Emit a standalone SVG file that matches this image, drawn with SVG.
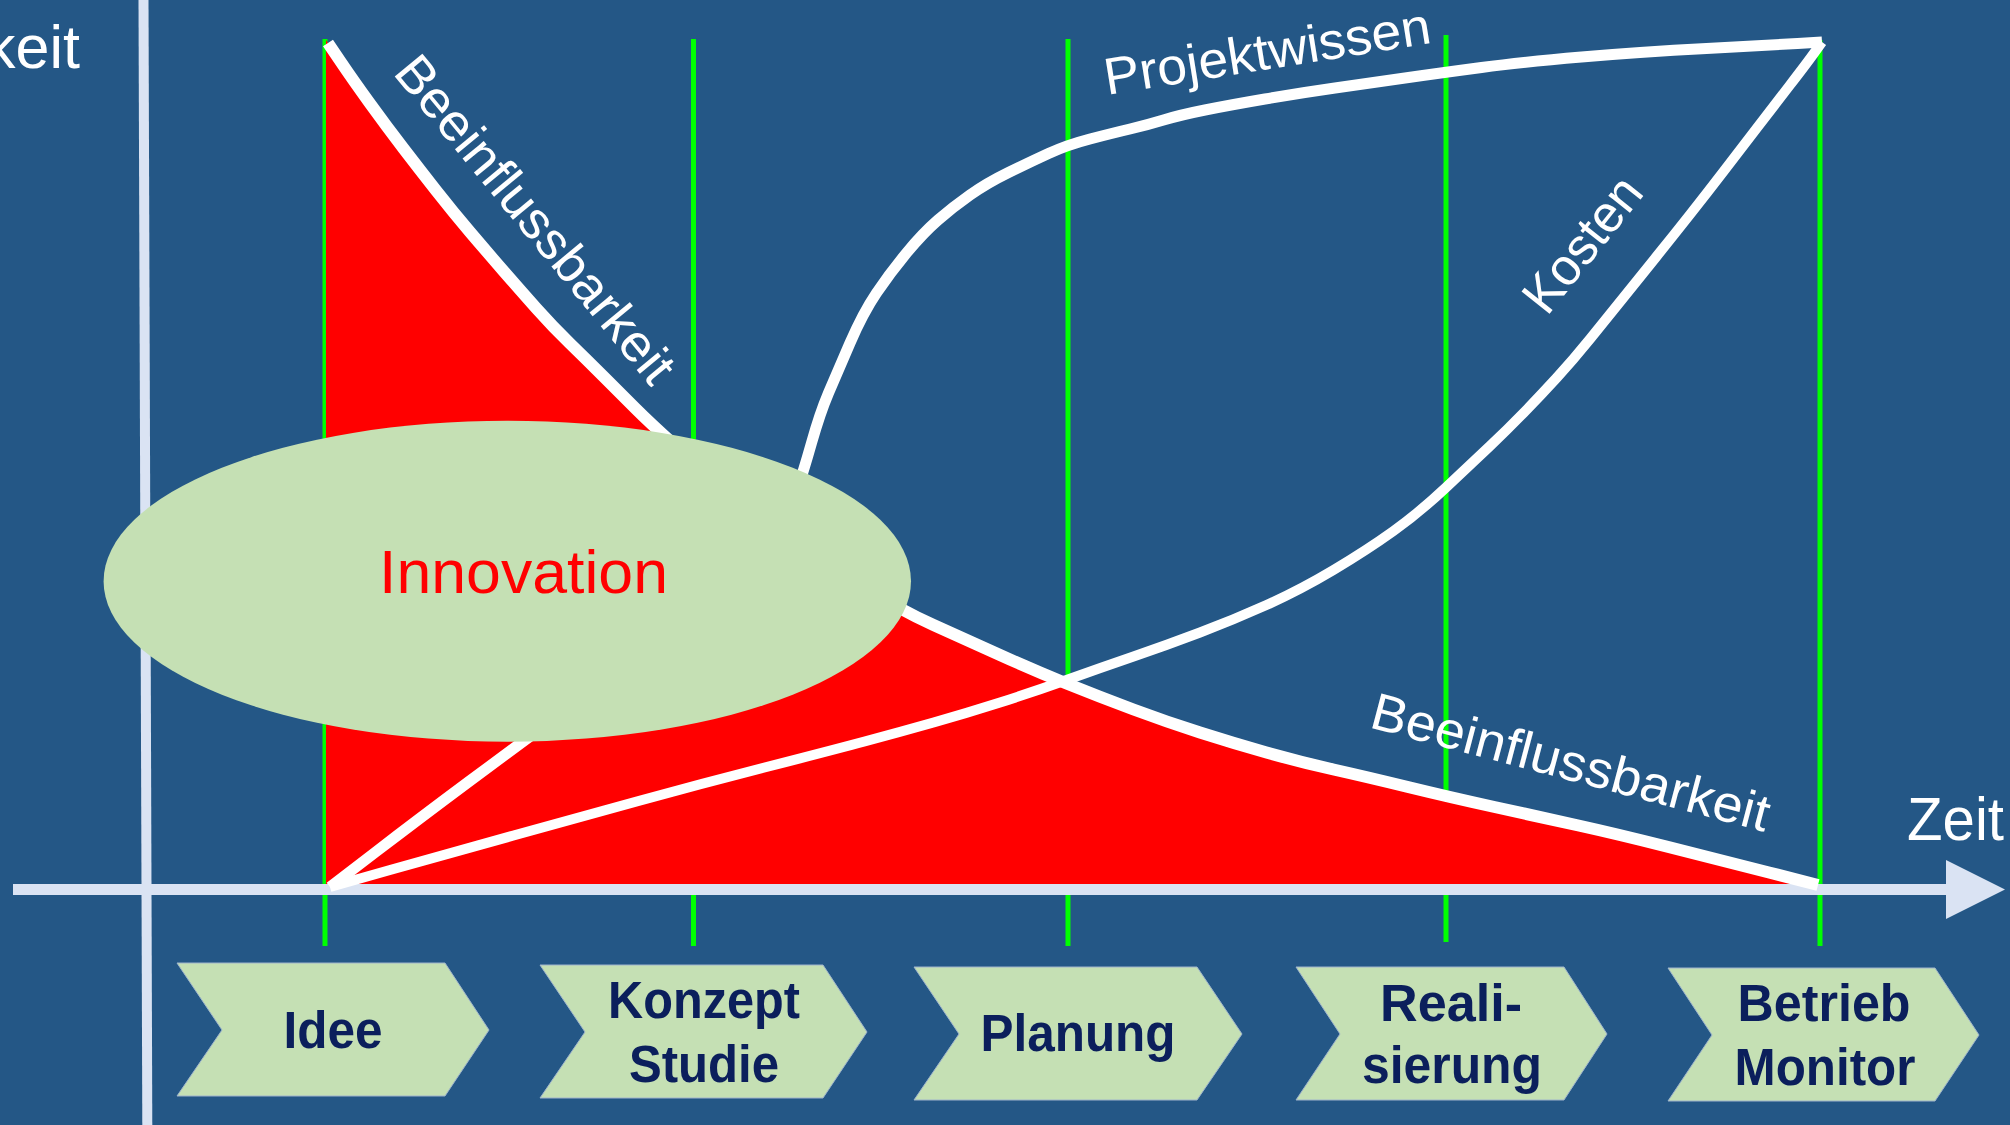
<svg xmlns="http://www.w3.org/2000/svg" width="2010" height="1125" viewBox="0 0 2010 1125">
<style>
.lbl{font-family:"Liberation Sans",Arial,sans-serif;fill:#ffffff;font-size:52px}
.big{font-family:"Liberation Sans",Arial,sans-serif;fill:#ffffff;font-size:61px}
.step{fill:#C5E0B4;stroke:#9FB4CC;stroke-width:1}
.steptxt{font-family:"Liberation Sans",Arial,sans-serif;font-weight:bold;font-size:51px;fill:#0B1F5C;text-anchor:middle}
.curve{fill:none;stroke:#ffffff;stroke-linejoin:round;stroke-linecap:butt}
.phase{stroke:#00FF00;stroke-width:5}
.axis{fill:#DAE3F3}
</style>
<rect x="0" y="0" width="2010" height="1125" fill="#245786"/>

<g id="phase-lines">
<line class="phase" x1="325" y1="39" x2="325" y2="946"/>
<line class="phase" x1="693.5" y1="39" x2="693.5" y2="946"/>
<line class="phase" x1="1068" y1="39" x2="1068" y2="946"/>
<line class="phase" x1="1446" y1="35" x2="1446" y2="942"/>
<line class="phase" x1="1820" y1="40" x2="1820" y2="946"/>
</g>

<path id="influence-area" fill="#FF0000" d="M326,40 L328,43 L340.5,61.5 Q353,80 370,103.5 Q387,127 403.5,148.5 Q420,170 436.5,191 Q453,212 470,232 Q487,252 503.5,271 Q520,290 536.5,308.5 Q553,327 570,343.5 Q587,360 603.5,376.5 Q620,393 635,408 Q650,423 675,445.5 Q700,468 730,490 Q760,512 795,538.5 Q830,565 865,587.5 Q900,610 933.5,625 Q967,640 1000,655 Q1033,670 1066.5,683.5 Q1100,697 1133.5,709.5 Q1167,722 1200,732.5 Q1233,743 1266.5,752.5 Q1300,762 1333.5,769.5 Q1367,777 1408,787 Q1449,797 1494.5,807 Q1540,817 1578.5,825.5 Q1617,834 1668.5,847 Q1720,860 1769,872.5 L1818,885 L326,885 Z"/>

<g id="axes">
<line x1="143.5" y1="0" x2="147.3" y2="1125" stroke="#DAE3F3" stroke-width="10"/>
<rect class="axis" x="13" y="884" width="1936" height="11"/>
<polygon class="axis" points="1946,860 2005,889.5 1946,919"/>
</g>

<g id="curves">
<path id="beeinflussbarkeit-curve" class="curve" stroke-width="12" d="M328,43 L340.5,61.5 Q353,80 370,103.5 Q387,127 403.5,148.5 Q420,170 436.5,191 Q453,212 470,232 Q487,252 503.5,271 Q520,290 536.5,308.5 Q553,327 570,343.5 Q587,360 603.5,376.5 Q620,393 635,408 Q650,423 675,445.5 Q700,468 730,490 Q760,512 795,538.5 Q830,565 865,587.5 Q900,610 933.5,625 Q967,640 1000,655 Q1033,670 1066.5,683.5 Q1100,697 1133.5,709.5 Q1167,722 1200,732.5 Q1233,743 1266.5,752.5 Q1300,762 1333.5,769.5 Q1367,777 1408,787 Q1449,797 1494.5,807 Q1540,817 1578.5,825.5 Q1617,834 1668.5,847 Q1720,860 1769,872.5 L1818,885"/>
<path id="kosten-curve" class="curve" stroke-width="10" d="M330,887 L390,870 Q450,853 513.5,835.5 Q577,818 638.5,801 Q700,784 764.5,767.5 Q829,751 864.5,741.5 Q900,732 933.5,722.5 Q967,713 1000,702.5 Q1033,692 1066.5,680 Q1100,668 1133.5,656.5 Q1167,645 1200,632.5 Q1233,620 1266.5,605 Q1300,590 1333.5,570 Q1367,550 1393.5,531 Q1420,512 1446.5,487 Q1473,462 1490,446 Q1507,430 1523.5,413 Q1540,396 1556.5,378 Q1573,360 1590,339 Q1607,318 1623.5,297.5 Q1640,277 1656.5,256.5 Q1673,236 1690,214.5 Q1707,193 1723.5,171.5 Q1740,150 1756.5,128.5 Q1773,107 1790,85 Q1807,63 1814.5,52.5 L1822,42"/>
<path id="projektwissen-curve" class="curve" stroke-width="11" d="M330,887 L375,852.5 Q420,818 469,781.5 Q518,745 569,707.5 Q620,670 660,640 Q700,610 730,580 Q760,550 775,530 Q790,510 796.5,491.5 Q803,473 811.5,443 Q820,413 828.5,393 Q837,373 850,343 Q863,313 876.5,293 Q890,273 906.5,253 Q923,233 938,220 Q953,207 970,195 Q987,183 1008.5,172.5 Q1030,162 1048.5,153.5 Q1067,145 1090,139 Q1113,133 1130,129 Q1147,125 1163.5,120 Q1180,115 1205,110 Q1230,105 1265,99 Q1300,93 1335,88 Q1370,83 1405,78 Q1440,73 1481.5,67.5 Q1523,62 1581.5,57 Q1640,52 1706.5,48.5 Q1773,45 1797.5,43.5 L1822,42"/>
</g>

<g id="innovation">
<ellipse cx="507.3" cy="581.2" rx="403.7" ry="160.5" fill="#C5E0B4"/>
<text x="379" y="593" font-family="Liberation Sans, Arial, sans-serif" font-size="62" fill="#FF0000" textLength="289" lengthAdjust="spacingAndGlyphs">Innovation</text>
</g>

<g id="labels">
<text class="big" x="80" y="68" text-anchor="end">keit</text>
<text class="big" x="1907" y="840" textLength="97" lengthAdjust="spacingAndGlyphs">Zeit</text>
<text class="lbl" transform="translate(392,73) rotate(50.5)" textLength="408" lengthAdjust="spacingAndGlyphs">Beeinflussbarkeit</text>
<text class="lbl" transform="translate(1368,727) rotate(14.8)" textLength="410" lengthAdjust="spacingAndGlyphs">Beeinflussbarkeit</text>
<text class="lbl" transform="translate(1107,95) rotate(-9.1)" textLength="330" lengthAdjust="spacingAndGlyphs">Projektwissen</text>
<text class="lbl" transform="translate(1547,317) rotate(-51.5)" textLength="158" lengthAdjust="spacingAndGlyphs">Kosten</text>
</g>

<g id="step-idee">
<polygon class="step" points="177,963 445,963 489,1030 445,1096 177,1096 222,1030"/>
<text class="steptxt" x="333" y="1048" textLength="99" lengthAdjust="spacingAndGlyphs">Idee</text>
</g>
<g id="step-konzept">
<polygon class="step" points="540,965 823,965 867,1032 823,1098 540,1098 585,1032"/>
<text class="steptxt" x="704" y="1018" textLength="192" lengthAdjust="spacingAndGlyphs">Konzept</text>
<text class="steptxt" x="704" y="1082" textLength="150" lengthAdjust="spacingAndGlyphs">Studie</text>
</g>
<g id="step-planung">
<polygon class="step" points="914,967 1197,967 1242,1034 1197,1100 914,1100 959,1034"/>
<text class="steptxt" x="1078" y="1051" textLength="195" lengthAdjust="spacingAndGlyphs">Planung</text>
</g>
<g id="step-realisierung">
<polygon class="step" points="1296,967 1564,967 1607,1034 1564,1100 1296,1100 1340,1034"/>
<text class="steptxt" x="1451" y="1021" textLength="142" lengthAdjust="spacingAndGlyphs">Reali-</text>
<text class="steptxt" x="1452" y="1083" textLength="180" lengthAdjust="spacingAndGlyphs">sierung</text>
</g>
<g id="step-betrieb">
<polygon class="step" points="1668,968 1935,968 1979,1035 1935,1101 1668,1101 1712,1035"/>
<text class="steptxt" x="1824" y="1021" textLength="173" lengthAdjust="spacingAndGlyphs">Betrieb</text>
<text class="steptxt" x="1825" y="1085" textLength="181" lengthAdjust="spacingAndGlyphs">Monitor</text>
</g>
</svg>
